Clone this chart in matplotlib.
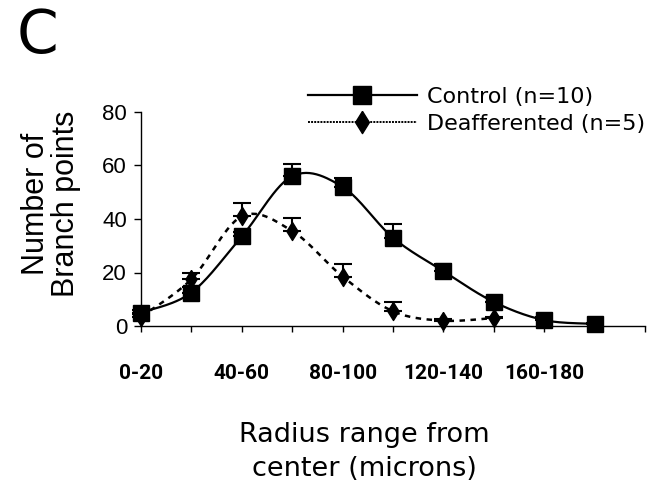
import matplotlib
matplotlib.use("Agg")
import matplotlib.pyplot as plt
from matplotlib.lines import Line2D
import numpy as np

# data
radius_bins = ['0-20', '20-40', '40-60', '60-80', '80-100',
               '100-120', '120-140', '140-160', '160-180', '180-200']
control_mean = [5, 12.5, 33.5, 56, 52, 33, 20.5, 9, 2.2, 0.8]
control_err = [1, 2, 1.5, 4.5, 3.5, 5, 2.5, 1.8, 1, 0.5]
deaf_mean = [3.5, 17.5, 41, 35.5, 18.5, 5.5, 2, 3]
deaf_err = [1, 2.5, 5, 5, 4.5, 3.5, 0.5, 0.5]
y_ticks = [0, 20, 40, 60, 80]

# tall diamond like the excel marker
diamond = [(0, 1), (0.62, 0), (0, -1), (-0.62, 0), (0, 1)]


# smooth line like excel does (catmull-rom through the points)
def smooth(x, y, n=30):
    x = np.asarray(x, float)
    y = np.asarray(y, float)
    px = np.concatenate([[x[0]], x, [x[-1]]])
    py = np.concatenate([[y[0]], y, [y[-1]]])
    xs, ys = [], []
    t = np.linspace(0, 1, n)
    for i in range(1, len(px) - 2):
        p0, p1, p2, p3 = px[i-1], px[i], px[i+1], px[i+2]
        q0, q1, q2, q3 = py[i-1], py[i], py[i+1], py[i+2]
        bx = [p1, p1 + (p2 - p0) / 6, p2 - (p3 - p1) / 6, p2]
        by = [q1, q1 + (q2 - q0) / 6, q2 - (q3 - q1) / 6, q2]
        b = [(1-t)**3, 3*(1-t)**2*t, 3*(1-t)*t**2, t**3]
        xs.append(sum(c*w for c, w in zip(bx, b)))
        ys.append(sum(c*w for c, w in zip(by, b)))
    return np.concatenate(xs), np.concatenate(ys)


fig = plt.figure(figsize=(6.64, 4.84), dpi=100)
ax = fig.add_axes([141/664, 1-326/484, 504/664, 214/484])

xc = np.arange(len(control_mean))
xd = np.arange(len(deaf_mean))

sx, sy = smooth(xc, control_mean)
ax.plot(sx, sy, color='black', lw=1.6, clip_on=False)
sx, sy = smooth(xd, deaf_mean)
ax.plot(sx, sy, color='black', lw=1.8, dashes=(2.2, 2.2), clip_on=False)

ax.errorbar(xc, control_mean, yerr=[np.zeros(len(control_err)), control_err],
            fmt='none', ecolor='black', elinewidth=1.5, capsize=6.5, capthick=1.5,
            clip_on=False)
ax.errorbar(xd, deaf_mean, yerr=[np.zeros(len(deaf_err)), deaf_err],
            fmt='none', ecolor='black', elinewidth=1.5, capsize=6.5, capthick=1.5,
            clip_on=False)

ax.plot(xc, control_mean, 's', color='black', ms=12, clip_on=False, zorder=5)
ax.plot(xd, deaf_mean, marker=diamond, ls='none', color='black', ms=13,
        clip_on=False, zorder=6)

ax.set_xlim(0, 10)
ax.set_ylim(0, 80)
ax.spines['top'].set_visible(False)
ax.spines['right'].set_visible(False)
ax.spines['left'].set_linewidth(1.0)
ax.spines['bottom'].set_linewidth(1.0)

ax.set_xticks(np.arange(11))
xlabels = [radius_bins[i] if i % 2 == 0 and i < len(radius_bins) else '' for i in range(11)]
ax.set_xticklabels(xlabels, fontsize=15, fontweight='bold', family='Roboto')
ax.tick_params(axis='x', direction='out', length=4.5, width=1, pad=23)

ax.set_yticks(y_ticks)
ax.set_yticklabels([str(v) for v in y_ticks], fontsize=16, family='Liberation Sans')
ax.tick_params(axis='y', direction='out', length=5, width=1, pad=5)

fig.text(17/664, 1-36/484, 'C', fontsize=43, family='DejaVu Sans',
         ha='left', va='center')

fig.text(51/664, 1-204/484, 'Number of\nBranch points', rotation=90,
         fontsize=22, family='Liberation Sans', ha='center', va='center',
         linespacing=1.0)

fig.text(364/664, 1-452/484, 'Radius range from\ncenter (microns)',
         fontsize=19.5, family='DejaVu Sans', ha='center', va='center',
         linespacing=1.35)

handles = [
    Line2D([], [], color='black', lw=1.6, marker='s', ms=13),
    Line2D([], [], color='black', lw=1.4, ls=(0, (1, 0.6)), marker=diamond, ms=16),
]
ax.legend(handles, ['Control (n=10)', 'Deafferented (n=5)'],
          loc='upper left', bbox_to_anchor=(308/664, 1-87/484),
          bbox_transform=fig.transFigure, frameon=False,
          prop={'family': 'DejaVu Sans', 'size': 16},
          handlelength=4.9, handletextpad=0.45, labelspacing=0.3,
          borderpad=0, borderaxespad=0)

fig.savefig('out.png', dpi=100)
